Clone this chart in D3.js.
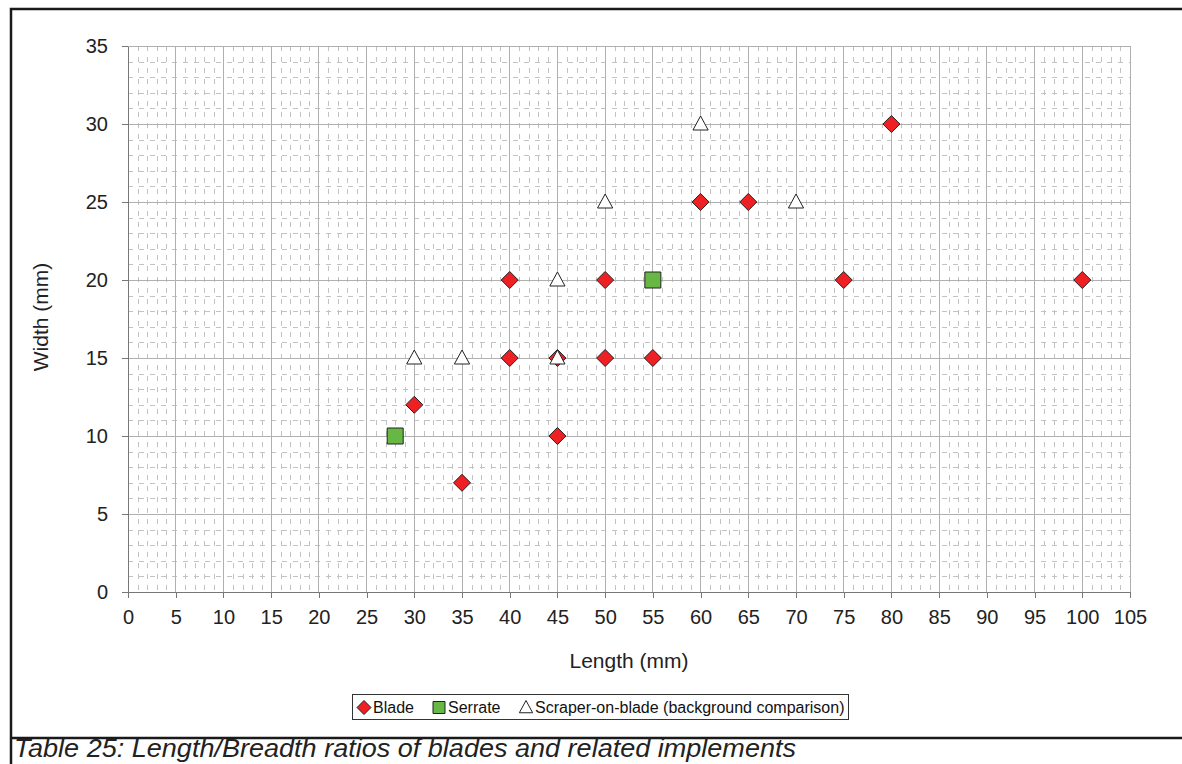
<!DOCTYPE html>
<html lang="en">
<head>
  <meta charset="UTF-8">
  <title>Length/Breadth ratios of blades</title>
  <script src="https://d3js.org/d3.v7.min.js"></script>
  <style>
    body { margin: 0; background: #fff; font-family: "Liberation Sans", Arial, sans-serif; }
    .minor { stroke: #c2c2c2; stroke-width: 1px; stroke-dasharray: 5,6; shape-rendering: crispEdges; }
    .major { stroke: #b0b0b0; stroke-width: 1px; shape-rendering: crispEdges; }
    .axis path, .axis line { stroke: #777; shape-rendering: crispEdges; }
    .axis text { font-family: "Liberation Sans", Arial, sans-serif; font-size: 20px; fill: #222; }
  </style>
</head>
<body>
<div id="chart"></div>
<script>
  // series data: [length, width]
  const blade = [[30, 12], [35, 7], [40, 20], [40, 15], [45, 15], [45, 10], [50, 20], [50, 15],
                 [55, 15], [60, 25], [65, 25], [75, 20], [80, 30], [100, 20]];
  const serrate = [[28, 10], [55, 20]];
  const scraper = [[30, 15], [35, 15], [45, 20], [45, 15], [50, 25], [60, 30], [70, 25]];
  const xTicks = d3.range(0, 106, 5);
  const yTicks = d3.range(0, 36, 5);

  const W = 1182, H = 764;
  const margin = { top: 46, right: 52, bottom: 172, left: 128 };
  const width = W - margin.left - margin.right;
  const height = H - margin.top - margin.bottom;

  const root = d3.select("#chart").append("svg")
    .attr("width", W).attr("height", H);

  // outer frame
  root.append("path")
    .attr("d", `M${W + 5},9 H11 V${H + 5} M11,738 H${W + 5}`)
    .attr("fill", "none").attr("stroke", "#1a1a1a").attr("stroke-width", 2.5);

  const svg = root.append("g").attr("transform", `translate(${margin.left},${margin.top})`);

  const x = d3.scaleLinear().domain([0, 105]).range([0, width]);
  const y = d3.scaleLinear().domain([0, 35]).range([height, 0]);

  // minor gridlines
  svg.append("g").selectAll("line").data(d3.range(1, 105).filter(d => d % 5)).enter()
    .append("line").attr("class", "minor")
    .attr("x1", d => Math.round(x(d)) + 0.5).attr("x2", d => Math.round(x(d)) + 0.5)
    .attr("y1", 0).attr("y2", height);
  svg.append("g").selectAll("line").data(d3.range(1, 35).filter(d => d % 5)).enter()
    .append("line").attr("class", "minor")
    .attr("y1", d => Math.round(y(d)) + 0.5).attr("y2", d => Math.round(y(d)) + 0.5)
    .attr("x1", 0).attr("x2", width);

  // major gridlines
  svg.append("g").selectAll("line").data(xTicks.slice(1)).enter()
    .append("line").attr("class", "major")
    .attr("x1", d => x(d)).attr("x2", d => x(d)).attr("y1", 0).attr("y2", height);
  svg.append("g").selectAll("line").data(yTicks.slice(1)).enter()
    .append("line").attr("class", "major")
    .attr("y1", d => y(d)).attr("y2", d => y(d)).attr("x1", 0).attr("x2", width);

  // axes
  svg.append("g").attr("class", "axis")
    .attr("transform", `translate(0,${height})`)
    .call(d3.axisBottom(x).tickValues(xTicks).tickSize(6).tickSizeOuter(0).tickPadding(12));
  svg.append("g").attr("class", "axis")
    .call(d3.axisLeft(y).tickValues(yTicks).tickSize(6).tickSizeOuter(0).tickPadding(14));

  // axis titles
  svg.append("text")
    .attr("x", width / 2).attr("y", height + 76)
    .attr("text-anchor", "middle").attr("font-size", 21).attr("fill", "#222")
    .text("Length (mm)");
  svg.append("text")
    .attr("transform", "rotate(-90)")
    .attr("x", -height / 2 + 2).attr("y", -margin.left + 48)
    .attr("text-anchor", "middle").attr("font-size", 21).attr("fill", "#222")
    .text("Width (mm)");

  // marker shapes
  const diamond = (cx, cy, r) => `M${cx},${cy - r}L${cx + r},${cy}L${cx},${cy + r}L${cx - r},${cy}Z`;
  const square = (cx, cy, r) => `M${cx - r},${cy - r}h${2 * r}v${2 * r}h${-2 * r}Z`;
  const triangle = (cx, cy, r) => `M${cx},${cy - r}L${cx + r * 0.95},${cy + r * 0.75}L${cx - r * 0.95},${cy + r * 0.75}Z`;

  svg.append("g").selectAll("path").data(blade).enter().append("path")
    .attr("d", d => diamond(x(d[0]), y(d[1]), 8.5))
    .attr("fill", "#ee2024").attr("stroke", "#222").attr("stroke-width", 1);
  svg.append("g").selectAll("path").data(serrate).enter().append("path")
    .attr("d", d => square(x(d[0]), y(d[1]), 8))
    .attr("fill", "#66b744").attr("stroke", "#222").attr("stroke-width", 1);
  svg.append("g").selectAll("path").data(scraper).enter().append("path")
    .attr("d", d => triangle(x(d[0]), y(d[1]), 8))
    .attr("fill", "#fff").attr("stroke", "#222").attr("stroke-width", 1);

  // legend
  const lg = root.append("g").attr("transform", "translate(352,694)");
  lg.append("rect").attr("x", 0.5).attr("y", 0.5).attr("width", 496).attr("height", 25)
    .attr("fill", "#fff").attr("stroke", "#333");
  const items = [
    { label: "Blade", shape: diamond, r: 7, fill: "#ee2024", tx: 21 },
    { label: "Serrate", shape: square, r: 6, fill: "#66b744", tx: 96 },
    { label: "Scraper-on-blade (background comparison)", shape: triangle, r: 7, fill: "#fff", tx: 183 }
  ];
  const li = lg.selectAll("g").data(items).enter().append("g");
  li.append("path")
    .attr("d", d => d.shape(d.tx - 9, 13.5, d.r))
    .attr("fill", d => d.fill).attr("stroke", "#222");
  li.append("text")
    .attr("x", d => d.tx).attr("y", 19)
    .attr("font-size", 16).attr("fill", "#111")
    .text(d => d.label);

  // caption
  root.append("text")
    .attr("x", 14).attr("y", 757)
    .attr("font-size", 25).attr("font-style", "italic").attr("fill", "#222")
    .attr("textLength", 782).attr("lengthAdjust", "spacingAndGlyphs")
    .text("Table 25: Length/Breadth ratios of blades and related implements");
</script>
</body>
</html>
